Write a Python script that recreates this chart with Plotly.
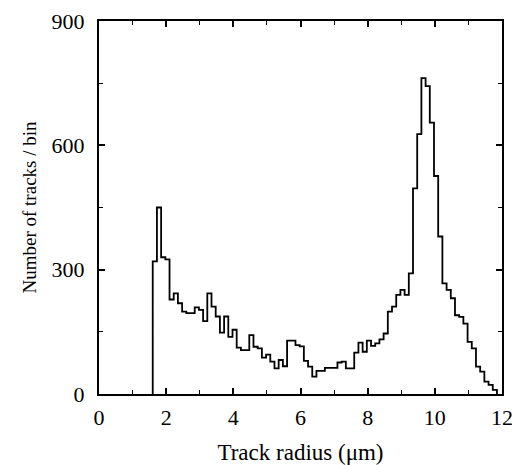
import numpy as np
import plotly.graph_objects as go

# Histogram data: track radius (µm) bins and counts per bin
bin_start = 1.6
bin_width = 0.125
counts = [320, 450, 330, 325, 228, 243, 219, 199, 195, 195,
          209, 203, 176, 243, 211, 187, 148, 187, 138, 155,
          112, 106, 106, 142, 114, 110, 88, 95, 78, 62,
          82, 67, 129, 129, 118, 115, 80, 66, 42, 56,
          56, 63, 63, 63, 76, 78, 62, 62, 100, 124,
          102, 129, 116, 122, 132, 146, 199, 211, 239, 251,
          239, 291, 496, 627, 762, 743, 655, 526, 380, 267,
          251, 231, 190, 186, 170, 126, 110, 66, 54, 30,
          22, 10]

x_ticks = [0, 2, 4, 6, 8, 10, 12]
y_ticks = [0, 300, 600, 900]

n = len(counts)
edges = bin_start + bin_width * np.arange(n + 1)
xs = [edges[0]] + list(edges[:n]) + [edges[n]]
ys = [0] + list(counts) + [0]

fig = go.Figure()
fig.add_trace(go.Scatter(x=xs, y=ys, mode="lines", line_shape="hv",
                         line=dict(color="black", width=1.8),
                         showlegend=False, hoverinfo="skip"))

serif = "Liberation Serif, Times New Roman, serif"
tickfont = dict(family=serif, size=22, color="black")

fig.update_layout(
    width=512, height=465,
    margin=dict(l=99, r=10, t=21, b=71, autoexpand=False),
    paper_bgcolor="white", plot_bgcolor="white",
    font=dict(family=serif, size=18, color="black"),
    xaxis=dict(range=[0, 12], tickvals=x_ticks, ticks="inside", ticklen=6,
               tickwidth=1.5, tickcolor="black", showline=True, linecolor="black",
               linewidth=2, mirror="ticks", showgrid=False, zeroline=False,
               automargin=False, tickfont=tickfont, ticklabeloverflow="allow",
               minor=dict(dtick=1, ticks="inside", ticklen=4, tickwidth=1.2, tickcolor="black"),
               ticklabelstandoff=3,
               title=dict(text="Track radius (μm)", standoff=15,
                          font=dict(family=serif, size=23, color="black"))),
    yaxis=dict(range=[0, 900], tickvals=y_ticks, ticks="inside", ticklen=6,
               tickwidth=1.5, tickcolor="black", showline=True, linecolor="black",
               linewidth=2, mirror="ticks", showgrid=False, zeroline=False,
               automargin=False, tickfont=tickfont, ticklabeloverflow="allow",
               minor=dict(dtick=150, ticks="inside", ticklen=4, tickwidth=1.2, tickcolor="black"),
               ticklabelstandoff=8,
               title=dict(text="Number of tracks / bin", standoff=10,
                          font=dict(family=serif, size=19, color="black"))),
)

fig.write_html("out.html")
